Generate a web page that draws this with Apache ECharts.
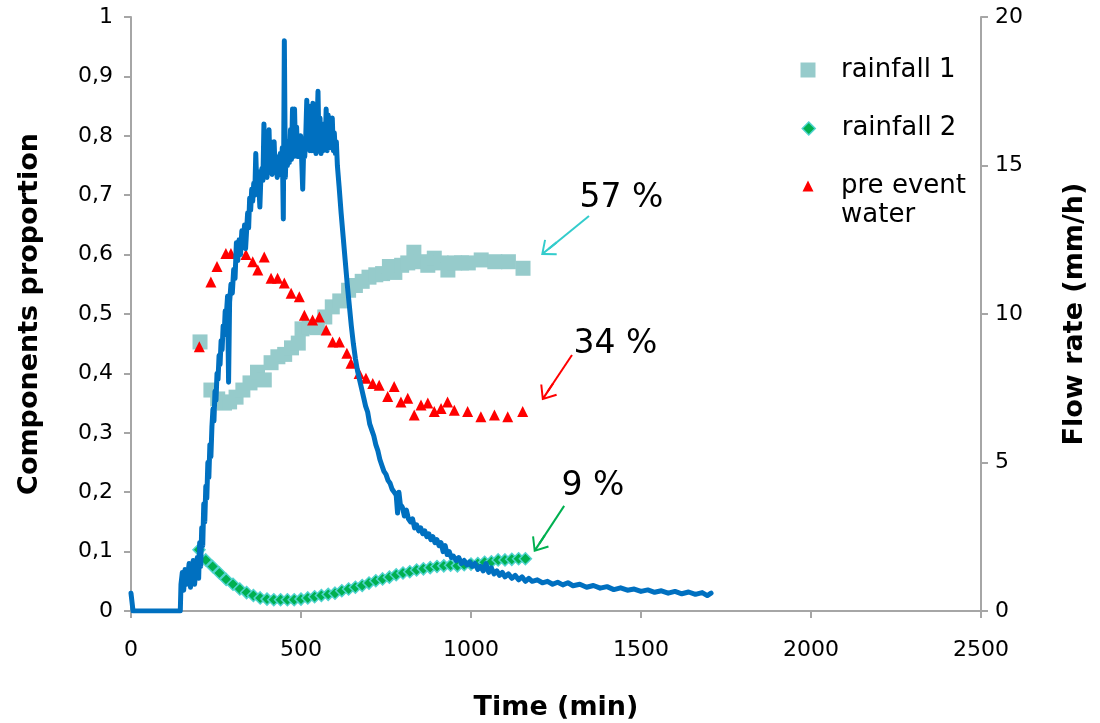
<!DOCTYPE html>
<html>
<head>
<meta charset="utf-8">
<script src="https://cdn.jsdelivr.net/npm/echarts@6/dist/echarts.min.js"></script>
<style>
html,body{margin:0;padding:0;background:#fff;}
#chart{width:1100px;height:723px;}
</style>
</head>
<body>
<div id="chart"></div>
<script>
// ---------- DATA ----------
const xTicks = [0, 500, 1000, 1500, 2000, 2500];
const leftTicks = [0, 0.1, 0.2, 0.3, 0.4, 0.5, 0.6, 0.7, 0.8, 0.9, 1];
const rightTicks = [0, 5, 10, 15, 20];

const seriesNames = ['rainfall 1', 'rainfall 2', 'pre event water', 'flow rate'];

// rainfall 1 proportion [time (min), proportion]
const rainfall1 = [
  [203,0.453],[235,0.372],[255,0.357],[275,0.350],[290,0.352],[309,0.360],[329,0.372],[350,0.384],
  [372,0.402],[392,0.389],[412,0.418],[432,0.428],[452,0.432],[472,0.443],[492,0.451],[503,0.475],
  [524,0.478],[548,0.477],[570,0.495],[592,0.512],[614,0.522],[640,0.540],[660,0.548],[680,0.555],
  [700,0.562],[720,0.566],[740,0.568],[760,0.580],[776,0.570],[796,0.582],[814,0.586],[832,0.604],
  [853,0.588],[873,0.582],[892,0.594],[912,0.586],[932,0.574],[952,0.586],[972,0.586],[992,0.586],
  [1030,0.591],[1070,0.588],[1110,0.588],[1153,0.577]
];

// rainfall 2 proportion
const rainfall2 = [
  [200,0.103],[220,0.086],[240,0.075],[260,0.064],[280,0.053],[300,0.045],[320,0.037],[340,0.031],
  [360,0.026],[380,0.022],[400,0.020],[420,0.019],[440,0.019],[460,0.019],[480,0.019],[500,0.020],
  [520,0.022],[540,0.024],[560,0.026],[580,0.028],[600,0.030],[620,0.034],[640,0.037],[660,0.040],
  [680,0.043],[700,0.047],[720,0.051],[740,0.054],[760,0.057],[780,0.061],[800,0.064],[820,0.066],
  [840,0.069],[860,0.071],[880,0.073],[900,0.075],[920,0.076],[940,0.077],[960,0.076],[980,0.078],
  [1000,0.079],[1020,0.080],[1040,0.082],[1060,0.083],[1080,0.086],[1100,0.086],[1120,0.087],
  [1140,0.088],[1160,0.088]
];

// pre event water proportion
const preEvent = [
  [201,0.445],[235,0.554],[253,0.580],[279,0.602],[294,0.602],[338,0.600],[358,0.588],[373,0.574],
  [392,0.596],[412,0.560],[431,0.560],[451,0.552],[471,0.535],[495,0.529],[510,0.498],[534,0.490],
  [554,0.495],[574,0.473],[593,0.453],[613,0.453],[635,0.434],[647,0.417],[671,0.400],[691,0.392],
  [711,0.383],[730,0.380],[755,0.361],[774,0.378],[794,0.352],[814,0.358],[833,0.330],[853,0.347],
  [873,0.350],[892,0.336],[912,0.341],[931,0.352],[951,0.338],[990,0.336],[1029,0.327],[1069,0.330],
  [1108,0.327],[1152,0.336]
];

// flow rate (mm/h)
const flowRate = [
  [0,0.6],[4,0.6],[6,0],[145,0],[147,0.9],[151,1.3],[155,0.7],[159,1.4],[163,0.9],[167,1.2],[171,1.6],
  [175,0.8],[179,1.3],[183,1.7],[187,0.9],[191,1.4],[195,1.8],[199,1.1],[202,2.3],[205,1.5],[208,2.8],
  [211,2.2],[214,3.6],[217,3.0],[220,4.2],[223,3.8],[226,5.0],[229,4.5],[232,5.6],[235,5.2],[238,6.2],
  [241,6.8],[244,6.4],[247,7.4],[250,7.1],[253,8.0],[256,7.8],[259,8.6],[262,8.3],[265,9.1],[268,8.8],
  [271,9.6],[274,9.3],[277,10.1],[280,9.9],[284,10.6],[287,7.7],[290,10.4],[294,11.0],[298,10.7],
  [302,11.5],[306,11.2],[310,12.4],[314,11.8],[318,12.5],[322,12.0],[326,12.8],[330,12.3],[334,13.0],
  [337,12.2],[340,12.8],[343,13.4],[346,12.9],[349,13.9],[352,13.5],[355,14.2],[358,13.8],[361,14.4],
  [364,14.0],[367,15.4],[370,14.3],[373,14.8],[376,14.4],[379,13.6],[382,14.6],[385,14.9],[388,14.5],
  [391,16.4],[394,14.7],[397,15.2],[400,14.6],[403,15.3],[406,16.2],[409,14.8],[412,15.8],[415,14.7],
  [418,15.3],[421,15.8],[424,14.8],[427,15.3],[430,14.6],[433,15.2],[436,14.7],[439,15.4],[442,14.9],
  [445,15.6],[448,13.2],[451,19.2],[454,14.6],[457,15.8],[460,15.0],[463,15.6],[466,15.1],[469,16.2],
  [472,15.2],[475,16.9],[478,15.3],[481,16.9],[484,15.4],[487,16.3],[490,15.3],[493,15.9],[496,15.4],
  [499,16.0],[502,15.2],[505,14.2],[508,15.6],[511,15.3],[514,16.0],[517,17.2],[520,15.6],[523,17.0],
  [526,15.5],[529,16.5],[532,15.5],[535,17.1],[538,15.6],[541,16.4],[544,15.4],[547,16.2],[550,17.5],
  [553,15.6],[556,16.6],[559,15.4],[562,16.2],[565,15.5],[568,16.4],[571,15.6],[574,16.9],[577,15.5],
  [580,16.7],[583,15.7],[586,16.5],[589,15.6],[592,16.6],[595,15.5],[598,16.1],[601,15.4],[604,15.8],
  [607,15.0],[612,14.3],[618,13.4],[624,12.6],
  [630,11.8],[636,11.0],[642,10.3],[648,9.6],[654,9.0],[660,8.5],[666,8.1],[672,7.8],[678,7.5],
  [684,7.2],[690,6.9],[696,6.7],[702,6.3],[708,6.1],[714,5.9],[720,5.6],[726,5.4],[732,5.1],[738,4.9],
  [744,4.7],[750,4.6],[756,4.4],[762,4.3],[768,4.1],[774,4.0],[780,3.9],[784,3.3],[788,4.0],[792,3.6],
  [798,3.5],[804,3.2],[810,3.4],[816,3.1],[822,3.0],[828,3.1],[834,2.8],[840,2.9],[846,2.7],[852,2.8],
  [858,2.6],[864,2.7],[870,2.5],[876,2.6],[882,2.4],[888,2.5],[894,2.3],[900,2.4],[906,2.2],[912,2.3],
  [918,2.0],[924,2.2],[930,1.9],[936,2.0],[942,1.8],[948,1.85],[956,1.7],[964,1.8],[972,1.6],[980,1.7],
  [988,1.55],[996,1.65],[1004,1.5],[1012,1.6],[1020,1.4],[1028,1.5],[1036,1.35],[1044,1.6],[1052,1.3],
  [1060,1.45],[1068,1.25],[1076,1.35],[1084,1.2],[1092,1.3],[1100,1.15],[1110,1.25],[1120,1.1],
  [1130,1.2],[1140,1.05],[1150,1.15],[1160,1.0],[1170,1.1],[1180,1.0],[1195,1.05],[1210,0.95],
  [1225,1.0],[1240,0.9],[1255,0.97],[1270,0.88],[1285,0.95],[1300,0.85],[1320,0.9],[1340,0.8],
  [1360,0.86],[1380,0.77],[1400,0.82],[1420,0.72],[1440,0.78],[1460,0.7],[1480,0.74],[1500,0.66],
  [1520,0.71],[1540,0.63],[1560,0.68],[1580,0.6],[1600,0.66],[1620,0.58],[1640,0.64],[1660,0.56],
  [1680,0.62],[1695,0.52],[1706,0.6]
];

// annotations: label text, label anchor [time, proportion], arrow start, arrow end
const annotTexts = ['57 %', '34 %', '9 %'];
const annotAnchors = [[1318, 0.695], [1300, 0.448], [1265, 0.209]];
const arrowStarts = [[1347, 0.665], [1297, 0.431], [1274, 0.177]];
const arrowEnds = [[1229, 0.610], [1225, 0.369], [1201, 0.1135]];

// ---------- CHART ----------
const FONT = 'DejaVu Sans';
const AXIS_GRAY = '#A6A6A6';
const arrowHead = 'path://M10,0 L19.5,12 L18,13.2 L11,4.3 L11,20 L9,20 L9,4.3 L2,13.2 L0.5,12 Z';

function annot(i, color) {
  return {
    markLine: {
      silent: true,
      animation: false,
      symbol: ['none', arrowHead],
      symbolSize: 20,
      label: {show: false},
      itemStyle: {color: color},
      lineStyle: {color: color, width: 2, type: 'solid'},
      emphasis: {disabled: true},
      data: [[{coord: arrowStarts[i]}, {coord: arrowEnds[i]}]]
    },
    markPoint: {
      silent: true,
      symbol: 'circle',
      symbolSize: 1,
      itemStyle: {color: 'rgba(0,0,0,0)'},
      label: {
        show: true, position: 'right', distance: 0,
        formatter: annotTexts[i], color: '#000',
        fontFamily: FONT, fontSize: 33
      },
      data: [{coord: annotAnchors[i]}]
    }
  };
}

const chart = echarts.init(document.getElementById('chart'));

function legendCfg(name, icon, size, top, itemStyle) {
  const left = 808 - size / 2;
  const pad = 841 - (left + size + 5);
  return {
    data: [{name: name, icon: icon, itemStyle: itemStyle}],
    orient: 'vertical',
    left: left,
    top: top,
    padding: 0,
    itemWidth: size,
    itemHeight: size,
    selectedMode: false,
    formatter: function (n) { return n === 'pre event water' ? ' \npre event\nwater' : n; },
    textStyle: {fontFamily: FONT, fontSize: 26, color: '#000', lineHeight: 29, padding: [0, 0, 0, pad]}
  };
}

const option = {
  animation: false,
  backgroundColor: '#fff',
  grid: {left: 131, right: 119, top: 17, bottom: 112, outerBoundsMode: 'none', containLabel: false},
  legend: [
    legendCfg(seriesNames[0], 'rect', 15, 55.5, {color: '#96CBCB'}),
    legendCfg(seriesNames[1], 'diamond', 13, 114, {color: '#00B050', borderColor: '#4FD3CF', borderWidth: 1.5}),
    legendCfg(seriesNames[2], 'triangle', 11, 142.5, {color: '#FF0000'})
  ],
  xAxis: {
    type: 'value', min: xTicks[0], max: xTicks[xTicks.length - 1], interval: 500,
    name: 'Time (min)', nameLocation: 'middle', nameGap: 83,
    nameTextStyle: {fontFamily: FONT, fontWeight: 'bold', fontSize: 27, color: '#000'},
    axisLine: {show: true, lineStyle: {color: AXIS_GRAY, width: 2}},
    axisTick: {show: true, length: 7, lineStyle: {color: AXIS_GRAY, width: 2}},
    axisLabel: {margin: 28, fontFamily: FONT, fontSize: 22, color: '#000',
      formatter: function (v) { return String(v); }},
    splitLine: {show: false}
  },
  yAxis: [
    {
      type: 'value', position: 'left', min: leftTicks[0], max: leftTicks[leftTicks.length - 1], interval: 0.1,
      name: 'Components proportion', nameLocation: 'middle', nameGap: 88,
      nameTextStyle: {fontFamily: FONT, fontWeight: 'bold', fontSize: 27, color: '#000'},
      axisLine: {show: true, lineStyle: {color: AXIS_GRAY, width: 2}},
      axisTick: {show: true, length: 7, lineStyle: {color: AXIS_GRAY, width: 2}},
      axisLabel: {
        margin: 18, fontFamily: FONT, fontSize: 22, color: '#000',
        formatter: function (v) {
          const r = Math.round(v * 10) / 10;
          if (r === 0) return '0';
          if (r === 1) return '1';
          return r.toFixed(1).replace('.', ',');
        }
      },
      splitLine: {show: false}
    },
    {
      type: 'value', position: 'right', min: rightTicks[0], max: rightTicks[rightTicks.length - 1], interval: 5,
      name: 'Flow rate (mm/h)', nameLocation: 'middle', nameGap: 80,
      nameTextStyle: {fontFamily: FONT, fontWeight: 'bold', fontSize: 27, color: '#000'},
      axisLine: {show: true, lineStyle: {color: AXIS_GRAY, width: 2}},
      axisTick: {show: true, length: 7, lineStyle: {color: AXIS_GRAY, width: 2}},
      axisLabel: {margin: 14, fontFamily: FONT, fontSize: 22, color: '#000'},
      splitLine: {show: false}
    }
  ],
  series: [
    Object.assign({
      name: seriesNames[0], type: 'scatter', yAxisIndex: 0, data: rainfall1,
      symbol: 'rect', symbolSize: 15, z: 2,
      itemStyle: {color: '#96CBCB', opacity: 1}
    }, annot(0, '#33CCCC')),
    Object.assign({
      name: seriesNames[1], type: 'scatter', yAxisIndex: 0, data: rainfall2,
      symbol: 'diamond', symbolSize: 12, z: 3,
      itemStyle: {color: '#00B050', borderColor: '#4FD3CF', borderWidth: 1.5, opacity: 1}
    }, annot(2, '#00B050')),
    Object.assign({
      name: seriesNames[2], type: 'scatter', yAxisIndex: 0, data: preEvent,
      symbol: 'triangle', symbolSize: 11, z: 4,
      itemStyle: {color: '#FF0000', opacity: 1}
    }, annot(1, '#FF0000')),
    {
      name: seriesNames[3], type: 'line', yAxisIndex: 1, data: flowRate,
      showSymbol: false, symbol: 'none', z: 5,
      lineStyle: {color: '#0070C0', width: 5, cap: 'round', join: 'round'},
      itemStyle: {color: '#0070C0'}
    }
  ]
};

chart.setOption(option);
</script>
</body>
</html>
